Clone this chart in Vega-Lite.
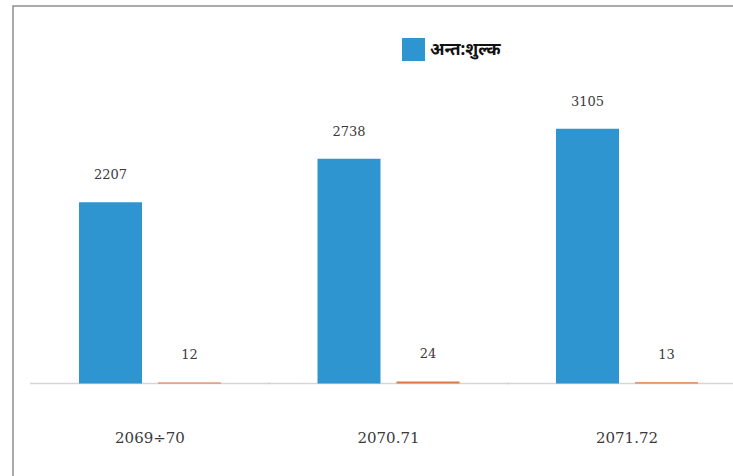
{
  "$schema": "https://vega.github.io/schema/vega-lite/v6.json",
  "width": 730,
  "height": 480,
  "autosize": {"type": "none"},
  "padding": {"left": 13, "top": 6, "right": 0, "bottom": 0},
  "background": "white",
  "config": {
    "view": {"stroke": "#8f8f8f", "strokeWidth": 1.5},
    "font": "DejaVu Serif"
  },
  "datasets": {
    "bars": [
      {"year": "2069÷70", "series": "अन्त:शुल्क", "value": 2207},
      {"year": "2069÷70", "series": "अन्य", "value": 12},
      {"year": "2070.71", "series": "अन्त:शुल्क", "value": 2738},
      {"year": "2070.71", "series": "अन्य", "value": 24},
      {"year": "2071.72", "series": "अन्त:शुल्क", "value": 3105},
      {"year": "2071.72", "series": "अन्य", "value": 13}
    ],
    "base": [
      {"year": "2069÷70", "zero": 0},
      {"year": "2070.71", "zero": 0},
      {"year": "2071.72", "zero": 0}
    ]
  },
  "layer": [
    {
      "data": {"name": "base"},
      "mark": {"type": "tick", "color": "#c4c4c4", "thickness": 1.5, "size": 240, "orient": "horizontal"},
      "encoding": {
        "x": {
          "field": "year",
          "type": "nominal",
          "sort": null,
          "scale": {"paddingInner": 0.4046, "paddingOuter": 0.2327, "align": 0.5946},
          "axis": {
            "title": null,
            "orient": "bottom",
            "offset": -56,
            "domain": false,
            "ticks": false,
            "labelAngle": 0,
            "labelPadding": 0,
            "labelFont": "DejaVu Serif",
            "labelFontSize": 15,
            "labelColor": "#3a3a3a",
            "labelBaseline": "top"
          }
        },
        "y": {
          "field": "zero",
          "type": "quantitative",
          "scale": {"domain": [-1250, 4600], "nice": false, "zero": false},
          "axis": null
        }
      }
    },
    {
      "data": {"name": "bars"},
      "mark": {"type": "bar"},
      "encoding": {
        "x": {"field": "year", "type": "nominal", "sort": null},
        "xOffset": {"field": "series", "type": "nominal", "sort": null, "scale": {"paddingInner": 0.2025, "paddingOuter": 0}},
        "y": {"field": "value", "type": "quantitative"},
        "color": {
          "field": "series",
          "type": "nominal",
          "sort": null,
          "scale": {"domain": ["अन्त:शुल्क", "अन्य"], "range": ["#2e95d0", "#e07a45"]},
          "legend": {
            "values": ["अन्त:शुल्क"],
            "title": null,
            "orient": "none",
            "legendX": 389,
            "legendY": 32,
            "symbolType": "square",
            "symbolSize": 529,
            "symbolStrokeWidth": 0,
            "labelFont": "Noto Sans",
            "labelFontSize": 17,
            "labelFontWeight": "bold",
            "labelColor": "#111111",
            "labelOffset": 5,
            "padding": 0
          }
        }
      }
    },
    {
      "data": {"name": "bars"},
      "mark": {"type": "text", "baseline": "middle", "dy": -27, "font": "DejaVu Serif", "fontSize": 13, "color": "#3a3a3a"},
      "encoding": {
        "x": {"field": "year", "type": "nominal", "sort": null},
        "xOffset": {"field": "series", "type": "nominal", "sort": null},
        "y": {"field": "value", "type": "quantitative"},
        "text": {"field": "value", "type": "quantitative"}
      }
    }
  ]
}
